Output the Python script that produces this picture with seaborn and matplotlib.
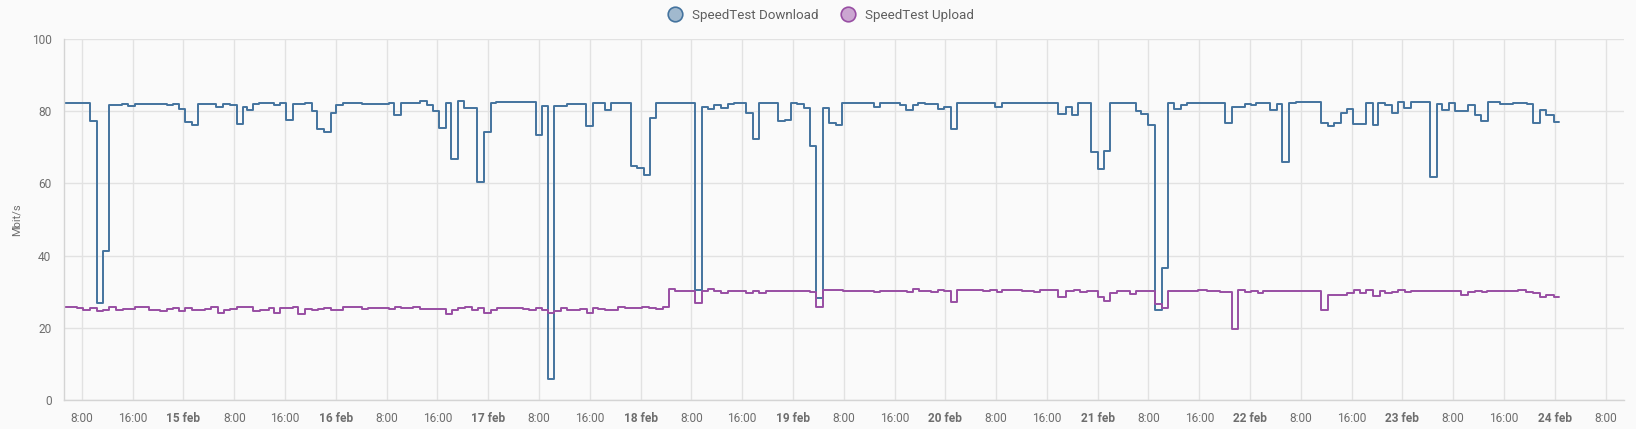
import matplotlib
matplotlib.use("Agg")
import matplotlib.pyplot as plt
from matplotlib.lines import Line2D
import seaborn as sns
import pandas as pd

# hours since 14 feb 00:00 where the value changes, and the value from there on
download_hours = [5.2, 9.3, 10.3, 11.3, 12.3, 14.3, 15.3, 16.4, 18.7, 21.4, 22.4, 23.3, 24.2, 25.3,
                  26.3, 29.2, 30.3, 31.3, 32.4, 33.4, 34.0, 35.0, 35.9, 38.2, 39.2, 40.1, 41.2,
                  43.1, 44.2, 45.1, 46.1, 47.2, 48.1, 49.2, 52.1, 53.9, 56.3, 57.2, 58.3, 61.3,
                  62.3, 63.3, 64.3, 65.3, 66.2, 67.3, 68.2, 70.3, 71.4, 72.4, 73.3, 79.5, 80.4,
                  81.4, 82.4, 84.4, 87.4, 88.5, 90.4, 91.4, 94.5, 95.5, 96.6, 97.5, 98.5, 101.0,
                  104.6, 105.6, 106.6, 107.6, 108.6, 109.7, 110.7, 112.6, 113.7, 114.7, 117.7,
                  118.7, 119.7, 120.7, 121.7, 122.7, 123.7, 124.8, 125.7, 126.8, 127.7, 132.7,
                  133.7, 136.9, 137.8, 138.9, 139.7, 140.8, 142.9, 143.8, 144.9, 145.9, 151.8,
                  152.9, 161.8, 163.0, 163.9, 164.9, 166.9, 168.0, 169.0, 170.0, 174.0, 174.9,
                  176.0, 177.0, 178.1, 179.1, 180.0, 181.1, 182.0, 188.1, 189.1, 191.2, 192.2,
                  193.0, 195.1, 196.2, 197.1, 198.2, 199.2, 203.2, 204.2, 205.3, 206.3, 207.2,
                  208.2, 210.3, 211.3, 212.2, 213.3, 214.3, 215.3, 216.2, 217.3, 220.3, 221.4,
                  222.3, 223.4, 224.3, 226.4, 227.4, 228.4, 229.4, 231.4, 233.4, 235.6, 236.5,
                  237.7, 238.6, 239.8]
download_mbit = [82.4, 77.4, 26.8, 41.2, 81.8, 82.0, 81.5, 82.1, 81.9, 81.6, 82.1, 80.7, 77.0, 76.1,
                 82.1, 81.3, 82.0, 81.6, 76.4, 81.3, 80.4, 81.9, 82.3, 81.6, 82.4, 77.6, 82.0,
                 82.2, 80.1, 75.2, 74.3, 79.6, 81.6, 82.4, 82.1, 82.0, 82.4, 78.9, 82.4, 82.9,
                 81.6, 80.1, 75.4, 82.2, 66.8, 82.7, 80.9, 60.5, 74.3, 82.2, 82.5, 73.4, 81.4,
                 5.8, 81.4, 81.9, 76.0, 82.2, 80.3, 82.2, 64.8, 64.4, 62.3, 78.2, 82.4, 82.2,
                 30.6, 81.3, 80.5, 81.8, 81.0, 81.9, 82.4, 79.4, 72.2, 82.4, 77.4,
                 77.7, 82.4, 82.0, 80.9, 70.4, 28.2, 80.9, 76.8, 76.3, 82.3, 81.3,
                 82.2, 81.6, 80.3, 81.6, 82.4, 81.9, 80.5, 81.3, 75.0, 82.4, 81.3,
                 82.4, 79.2, 81.3, 78.9, 82.2, 68.7, 64.1, 69.1, 82.2, 80.1, 79.2,
                 76.1, 24.9, 36.5, 82.4, 80.7, 81.8, 82.4, 76.6, 81.1, 82.0, 81.8,
                 82.3, 80.3, 81.9, 66.0, 82.3, 82.5, 76.6, 75.9, 76.6, 79.6, 80.7,
                 76.4, 82.2, 76.1, 82.2, 81.8, 79.5, 82.5, 80.9, 82.5, 61.7, 82.0,
                 80.3, 82.4, 80.1, 81.6, 79.0, 77.4, 82.5, 82.0, 82.3, 82.0, 76.6,
                 80.3, 78.9, 77.0]

upload_hours = [5.2, 7.2, 8.2, 9.3, 10.3, 11.4, 12.3, 13.4, 14.4, 16.4, 18.5, 20.3, 21.4, 22.4,
                23.3, 24.2, 25.4, 27.4, 28.4, 29.4, 30.4, 31.3, 32.4, 33.4, 35.0, 36.1, 37.4,
                38.3, 39.2, 41.2, 42.1, 43.1, 44.2, 45.2, 46.1, 47.2, 49.2, 52.1, 53.1, 56.3,
                57.3, 58.3, 60.2, 61.3, 62.3, 65.3, 66.3, 67.3, 68.3, 69.4, 70.4, 71.4, 72.4,
                73.4, 74.4, 77.5, 78.5, 79.5, 80.4, 81.4, 82.4, 83.5, 84.4, 86.5, 87.5, 88.5,
                89.3, 90.4, 91.4, 92.5, 93.5, 96.3, 97.4, 98.5, 99.6, 100.5, 101.4, 104.6,
                105.6, 106.6, 107.6, 108.6, 109.7, 112.6, 113.7, 114.7, 115.8, 122.7, 123.7,
                124.8, 127.9, 130.0, 132.7, 133.7, 135.8, 137.9, 138.9, 139.9, 141.8, 142.9,
                143.8, 144.9, 145.9, 150.0, 151.0, 152.1, 152.9, 156.0, 157.9, 158.9, 161.8,
                163.0, 164.2, 165.2, 166.3, 168.0, 169.0, 170.0, 171.0, 173.1, 174.1, 177.0,
                178.1, 179.1, 180.0, 182.0, 183.8, 185.2, 187.3, 189.1, 190.1, 191.2, 192.2,
                193.3, 194.1, 203.2, 204.2, 207.2, 208.3, 209.3, 210.3, 211.3, 212.4, 213.3,
                214.3, 215.3, 216.4, 217.4, 223.2, 224.3, 225.3, 226.4, 227.4, 228.5, 229.3,
                234.2, 235.5, 236.6, 237.7, 238.6, 239.8]
upload_mbit = [25.8, 25.5, 24.9, 25.5, 24.6, 24.9, 25.8, 25.0, 25.3, 25.8, 24.9, 24.6, 25.1, 25.6,
               24.7, 25.6, 24.9, 25.3, 25.8, 24.0, 24.9, 25.3, 25.9, 25.8, 24.7, 24.9, 25.6,
               24.2, 25.4, 25.9, 23.9, 25.3, 24.9, 25.1, 25.5, 24.9, 25.7, 25.3, 25.5, 25.3,
               25.9, 25.5, 25.7, 25.3, 25.1, 23.8, 24.9, 25.5, 25.7, 24.9, 25.4, 24.0, 24.9,
               25.5, 25.6, 25.1, 24.9, 25.5, 24.9, 24.0, 24.7, 25.5, 24.9, 25.1, 24.0, 25.6,
               25.3, 25.0, 24.9, 25.7, 25.4, 25.7, 25.5, 25.1, 25.9, 30.7, 30.3, 27.0,
               30.3, 30.7, 30.1, 29.6, 30.3, 29.7, 30.1, 29.6, 30.3, 29.9, 25.7,
               30.5, 30.1, 30.3, 29.9, 30.3, 30.1, 29.9, 30.7, 30.3, 29.9, 30.6,
               30.1, 27.2, 30.5, 30.1, 30.5, 29.9, 30.5, 30.3, 29.9, 30.5, 28.6,
               30.1, 30.5, 29.9, 30.3, 28.4, 27.5, 29.7, 30.3, 29.4, 30.3, 26.6,
               25.5, 30.3, 30.1, 30.3, 30.6, 30.3, 29.9, 19.6, 30.5, 29.9, 30.3,
               29.7, 30.3, 24.9, 29.2, 29.6, 30.5, 29.6, 30.5, 28.8, 30.3, 29.6,
               30.0, 30.5, 29.9, 30.3, 30.1, 30.3, 29.1, 29.9, 30.3, 30.0, 30.3,
               30.5, 30.0, 29.7, 28.4, 29.0, 28.6]

last_hour = 240.7
view_start_hour = 5.18
view_end_hour = 250.9

START = pd.Timestamp("2024-02-14 00:00")
BLUE = "#44739e"
PURPLE = "#984ea3"


def step_frame(hours, values):
    h = list(hours) + [last_hour]
    v = list(values) + [values[-1]]
    return pd.DataFrame({"time": START + pd.to_timedelta(h, unit="h"), "mbit": v})


dl = step_frame(download_hours, download_mbit)
ul = step_frame(upload_hours, upload_mbit)

sns.set_theme(style="whitegrid")
plt.rcParams['font.family'] = ['Roboto', 'DejaVu Sans']

fig = plt.figure(figsize=(16.36, 4.29), dpi=100, facecolor="#fafafa")
ax = fig.add_axes([64 / 1636, 29 / 429, 1560 / 1636, 361 / 429])
ax.set_facecolor("#fafafa")

sns.lineplot(data=dl, x="time", y="mbit", color=BLUE, lw=1.4, drawstyle="steps-post",
             estimator=None, ax=ax)
sns.lineplot(data=ul, x="time", y="mbit", color=PURPLE, lw=1.4, drawstyle="steps-post",
             estimator=None, ax=ax)

ax.set_xlim(START + pd.Timedelta(hours=view_start_hour), START + pd.Timedelta(hours=view_end_hour))
ax.set_ylim(0, 100)
ax.set_yticks(range(0, 101, 20))

ticks = pd.date_range("2024-02-14 08:00", "2024-02-24 08:00", freq="8h")
labels = [f"{t.day} feb" if t.hour == 0 else f"{t.hour}:00" for t in ticks]
ax.set_xticks(ticks)
ax.set_xticklabels(labels)
for lbl, t in zip(ax.get_xticklabels(), ticks):
    if t.hour == 0:
        lbl.set_fontweight("bold")

ax.grid(True, color="#e2e2e2", lw=1)
ax.tick_params(axis="both", length=5, width=1, color="#e2e2e2", labelsize=8.6,
               labelcolor="#6e6e6e", pad=4)
for side in ["top", "right"]:
    ax.spines[side].set_visible(False)
for side in ["left", "bottom"]:
    ax.spines[side].set_color("#d4d4d4")
    ax.spines[side].set_linewidth(1)

ax.set_xlabel("")
ax.set_ylabel("")
fig.text(17 / 1636, 1 - 220 / 429, "Mbit/s", rotation=90, ha="center", va="center",
         fontsize=8, color="#6e6e6e")

handles = [
    Line2D([], [], marker="o", ls="", markersize=10.5, markerfacecolor="#a1b9ce",
           markeredgecolor=BLUE, markeredgewidth=1.2, label="SpeedTest Download"),
    Line2D([], [], marker="o", ls="", markersize=10.5, markerfacecolor="#cba6d1",
           markeredgecolor=PURPLE, markeredgewidth=1.2, label="SpeedTest Upload"),
]
fig.legend(handles=handles, loc="center", bbox_to_anchor=(0.5, 1 - 15 / 429), ncol=2,
           frameon=False, fontsize=9.6, labelcolor="#5e5e5e", handletextpad=0.3,
           columnspacing=1.2)

fig.savefig("out.png", dpi=100, facecolor=fig.get_facecolor())
